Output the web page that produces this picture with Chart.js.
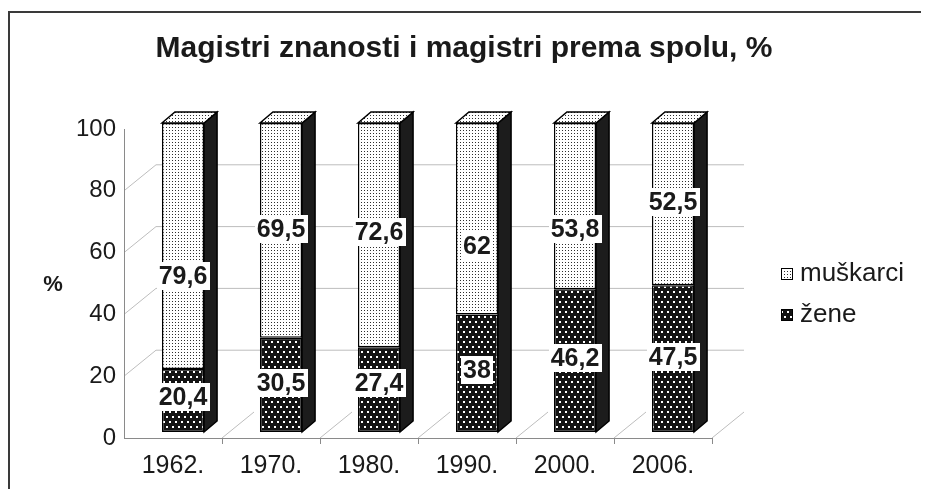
<!DOCTYPE html>
<html>
<head>
<meta charset="utf-8">
<script src="https://cdn.jsdelivr.net/npm/chart.js@4/dist/chart.umd.min.js"></script>
<style>
  html, body { margin: 0; padding: 0; background: #fff; }
</style>
</head>
<body>
<canvas id="myChart" width="928" height="489"></canvas>
<script>
const categories = ['1962.', '1970.', '1980.', '1990.', '2000.', '2006.'];
const zene = [20.4, 30.5, 27.4, 38, 46.2, 47.5];
const muskarci = [79.6, 69.5, 72.6, 62, 53.8, 52.5];
const yTicks = [0, 20, 40, 60, 80, 100];

// label nudges in px, the labels are not all centred in the original
const topLabelShift = [30, -1, -3, 27, 23, -2];
const lowLabelShift = [-3, -2, -7, -3, -3, -2];

const FONT = '"Liberation Sans", Arial, sans-serif';
const INK = '#1a1a1a';
const DEPTH = { x: 13, y: 11 };   // depth of a bar
const FRONT = { x: -10, y: 6 };   // axis plane relative to the bar plane
const BACK = { x: 32, y: -26 };   // back wall relative to the axis plane

const ctx = document.getElementById('myChart').getContext('2d');

function makePattern(w, h, bg, color, size, dots) {
  const c = document.createElement('canvas');
  c.width = w; c.height = h;
  const g = c.getContext('2d');
  g.fillStyle = bg;
  g.fillRect(0, 0, w, h);
  g.fillStyle = color;
  dots.forEach(d => g.fillRect(d[0], d[1], size, size));
  return ctx.createPattern(c, 'repeat');
}

const lightFill = makePattern(3, 3, '#ffffff', '#2e2e2e', 1, [[1, 1]]);
const darkFill = makePattern(6, 10, '#141414', '#ffffff', 2, [[1, 1], [4, 6]]);

function line(c, x1, y1, x2, y2) {
  c.beginPath();
  c.moveTo(x1, y1);
  c.lineTo(x2, y2);
  c.stroke();
}

function poly(c, pts, fill) {
  c.beginPath();
  c.moveTo(pts[0][0], pts[0][1]);
  pts.slice(1).forEach(p => c.lineTo(p[0], p[1]));
  c.closePath();
  c.fillStyle = fill;
  c.fill();
  c.stroke();
}

const fmt = v => String(v).replace('.', ',');

const deco = {
  id: 'deco',
  beforeDatasetsDraw(chart) {
    const c = chart.ctx;
    const a = chart.chartArea;
    const y = chart.scales.y;
    const n = categories.length;
    const step = (a.right - a.left) / n;
    const fy = v => y.getPixelForValue(v) + FRONT.y;
    const fl = a.left + FRONT.x, fr = a.right + FRONT.x;
    c.save();
    c.lineWidth = 1;
    c.strokeStyle = '#bdbdbd';
    yTicks.forEach(v => {
      if (v === 0 || v === 100) return;
      const yy = fy(v);
      line(c, fl, yy, fl + BACK.x, yy + BACK.y);
      line(c, fl + BACK.x, yy + BACK.y, fr + BACK.x, yy + BACK.y);
    });
    for (let i = 1; i <= n; i++) {
      const xx = fl + i * step;
      line(c, xx, fy(0), xx + BACK.x, fy(0) + BACK.y);
    }
    c.strokeStyle = '#8a8a8a';
    line(c, fl + 0.5, fy(100), fl + 0.5, fy(0));
    line(c, fl, fy(0) + 0.5, fr, fy(0) + 0.5);
    for (let i = 1; i <= n; i++) {
      const xx = Math.round(fl + i * step) + 0.5;
      line(c, xx, fy(0), xx, fy(0) + 6);
    }
    c.restore();
  },
  afterDatasetsDraw(chart) {
    const c = chart.ctx;
    const low = chart.getDatasetMeta(0).data;
    const high = chart.getDatasetMeta(1).data;
    c.save();
    c.strokeStyle = '#000';
    c.lineWidth = 1.5;
    high.forEach((el, i) => {
      const p = el.getProps(['x', 'y', 'width'], true);
      const b = low[i].getProps(['base'], true).base;
      const L = p.x - p.width / 2, R = p.x + p.width / 2, T = p.y;
      poly(c, [[R, T], [R + DEPTH.x, T - DEPTH.y], [R + DEPTH.x, b - DEPTH.y], [R, b]], '#1c1c1c');
      poly(c, [[L, T], [L + DEPTH.x, T - DEPTH.y], [R + DEPTH.x, T - DEPTH.y], [R, T]], lightFill);
    });
    // data labels in white boxes
    c.font = 'bold 25px ' + FONT;
    c.textAlign = 'center';
    c.textBaseline = 'middle';
    [[low, zene, lowLabelShift], [high, muskarci, topLabelShift]].forEach(([els, vals, shift]) => {
      els.forEach((el, i) => {
        const p = el.getProps(['x', 'y', 'base'], true);
        const cy = (p.y + p.base) / 2 + shift[i];
        const txt = fmt(vals[i]);
        const w = c.measureText(txt).width + 4;
        c.fillStyle = '#fff';
        c.fillRect(Math.round(p.x - w / 2), Math.round(cy - 14), Math.round(w), 28);
        c.fillStyle = INK;
        c.fillText(txt, p.x, cy + 1);
      });
    });
    c.restore();
  },
  afterDraw(chart) {
    const c = chart.ctx;
    c.save();
    // legend, muškarci listed first as in the original
    const ds = chart.data.datasets;
    [ds[1], ds[0]].forEach((d, k) => {
      const cy = 274 + k * 41;
      c.fillStyle = d.backgroundColor;
      c.fillRect(781, cy - 6, 12, 12);
      c.strokeStyle = '#000';
      c.lineWidth = 1;
      c.strokeRect(781.5, cy - 5.5, 11, 11);
      c.fillStyle = INK;
      c.font = '26px ' + FONT;
      c.textAlign = 'left';
      c.textBaseline = 'middle';
      c.fillText(d.label, 800, cy);
    });
    // axis name
    c.font = 'bold 22px ' + FONT;
    c.textAlign = 'center';
    c.fillText('%', 53, 285);
    // frame
    c.strokeStyle = '#3a3a3a';
    c.lineWidth = 2;
    c.beginPath();
    c.moveTo(9, 489);
    c.lineTo(9, 12);
    c.lineTo(921, 12);
    c.stroke();
    c.restore();
  }
};

const chart = new Chart(ctx, {
  type: 'bar',
  data: {
    labels: categories,
    datasets: [
      { label: 'žene', data: zene, backgroundColor: darkFill },
      { label: 'muškarci', data: muskarci, backgroundColor: lightFill }
    ].map(d => Object.assign(d, {
      borderColor: '#000',
      borderWidth: 1.5,
      borderSkipped: false,
      barPercentage: 1,
      categoryPercentage: 0.43
    }))
  },
  options: {
    responsive: false,
    animation: false,
    layout: { padding: 0 },
    plugins: {
      legend: { display: false },
      tooltip: { enabled: false },
      title: {
        display: true,
        text: 'Magistri znanosti i magistri prema spolu, %',
        color: INK,
        font: { family: FONT, size: 30, weight: 'bold' },
        padding: { top: 31, bottom: 56 }
      }
    },
    scales: {
      x: {
        stacked: true,
        grid: { display: false, drawTicks: false },
        border: { display: false },
        ticks: { color: INK, font: { family: FONT, size: 25 }, padding: 19, labelOffset: -10 },
        afterFit: s => { s.height = 57; }
      },
      y: {
        stacked: true,
        min: 0,
        max: 100,
        afterBuildTicks: s => { s.ticks = yTicks.map(v => ({ value: v })); },
        grid: { display: false, drawTicks: false },
        border: { display: false },
        ticks: { color: INK, font: { family: FONT, size: 24 }, padding: 18, labelOffset: 6 },
        afterFit: s => { s.width = 134; }
      },
      // empty right-hand strip that keeps room for the legend
      side: {
        position: 'right',
        grid: { display: false, drawTicks: false },
        border: { display: false },
        ticks: { display: false },
        afterFit: s => { s.width = 206; }
      }
    }
  },
  plugins: [deco]
});
</script>
</body>
</html>
